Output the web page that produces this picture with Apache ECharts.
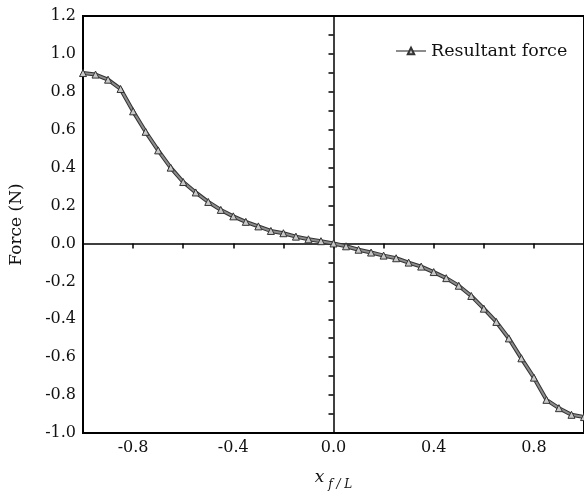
<!DOCTYPE html>
<html>
<head>
<meta charset="utf-8">
<script src="https://cdn.jsdelivr.net/npm/echarts@6/dist/echarts.min.js"></script>
<style>html,body{margin:0;padding:0;background:#fff}#c{width:584px;height:496px}</style>
</head>
<body>
<div id="c"></div>
<script>
const xValues = [-1.0,-0.95,-0.9,-0.85,-0.8,-0.75,-0.7,-0.65,-0.6,-0.55,-0.5,-0.45,-0.4,-0.35,-0.3,-0.25,-0.2,-0.15,-0.1,-0.05,0.0,
  0.05,0.1,0.15,0.2,0.25,0.3,0.35,0.4,0.45,0.5,0.55,0.6,0.65,0.7,0.75,0.8,0.85,0.9,0.95,1.0];
const forceValues = [0.899,0.891,0.864,0.815,0.697,0.589,0.491,0.400,0.324,0.269,0.219,0.177,0.143,0.114,0.090,0.066,0.054,0.036,0.022,0.012,0.0,
  -0.015,-0.033,-0.048,-0.064,-0.078,-0.101,-0.122,-0.151,-0.183,-0.223,-0.277,-0.344,-0.414,-0.501,-0.606,-0.708,-0.825,-0.869,-0.904,-0.916];
const xTickLabels = [-0.8, -0.4, 0.0, 0.4, 0.8];
const seriesName = 'Resultant force';

const pts = xValues.map((x, i) => [x, forceValues[i]]);
const F = 'DejaVu Serif';
const fmt = v => { const s = Number(v).toFixed(1); return s === '-0.0' ? '0.0' : s; };
const chart = echarts.init(document.getElementById('c'));
chart.setOption({
  animation: false,
  backgroundColor: '#fff',
  grid: { left: 82, top: 16, width: 506, height: 419, show: true, borderColor: '#000', borderWidth: 2, backgroundColor: 'transparent' },
  legend: {
    data: [seriesName], left: 390, top: 37, itemWidth: 30, itemHeight: 8,
    textStyle: { fontFamily: F, fontSize: 17.5, color: '#111' }
  },
  xAxis: [
    { type: 'value', min: -1, max: 1, interval: 0.2, position: 'bottom',
      axisLine: { onZero: false, lineStyle: { color: '#000', width: 2 } },
      axisTick: { show: false }, splitLine: { show: false },
      axisLabel: { fontFamily: F, fontSize: 16, color: '#111', margin: 7,
        customValues: xTickLabels, formatter: fmt },
      name: '{x|x}{s| f / L}', nameLocation: 'middle', nameGap: 36,
      nameTextStyle: { rich: {
        x: { fontFamily: F, fontStyle: 'italic', fontSize: 17, color: '#111', verticalAlign: 'bottom' },
        s: { fontFamily: F, fontStyle: 'italic', fontSize: 12, color: '#111', verticalAlign: 'bottom', padding: [0,0,-5,0] }
      } }
    },
    { type: 'value', min: -1, max: 1, interval: 0.2, position: 'bottom',
      axisLine: { onZero: true, lineStyle: { color: '#000', width: 1.5 } },
      axisTick: { show: true, length: 5, lineStyle: { color: '#000', width: 1.5 } },
      axisLabel: { show: false }, splitLine: { show: false } }
  ],
  yAxis: [
    { type: 'value', min: -1, max: 1.2, interval: 0.2, position: 'left',
      axisLine: { onZero: false, lineStyle: { color: '#000', width: 2 } },
      axisTick: { show: false }, splitLine: { show: false },
      axisLabel: { fontFamily: F, fontSize: 16, color: '#111', margin: 7, formatter: fmt },
      name: 'Force (N)', nameLocation: 'middle', nameGap: 58,
      nameTextStyle: { fontFamily: F, fontSize: 17, color: '#111' }
    },
    { type: 'value', min: -1, max: 1.2, interval: 0.1, position: 'left',
      axisLine: { onZero: true, lineStyle: { color: '#000', width: 1.5 } },
      axisTick: { show: true, length: 5, lineStyle: { color: '#000', width: 1.5 } },
      axisLabel: { show: false }, splitLine: { show: false } }
  ],
  series: [
    { type: 'line', xAxisIndex: 0, yAxisIndex: 0, data: pts, showSymbol: false, silent: true,
      lineStyle: { color: '#333', width: 4 }, z: 3 },
    { name: seriesName, type: 'line', xAxisIndex: 0, yAxisIndex: 0, data: pts,
      symbol: 'triangle', symbolSize: 7,
      itemStyle: { color: '#c8c8c8', borderColor: '#333', borderWidth: 1 },
      lineStyle: { color: '#8c8c8c', width: 2 }, z: 4 }
  ]
});
</script>
</body>
</html>
